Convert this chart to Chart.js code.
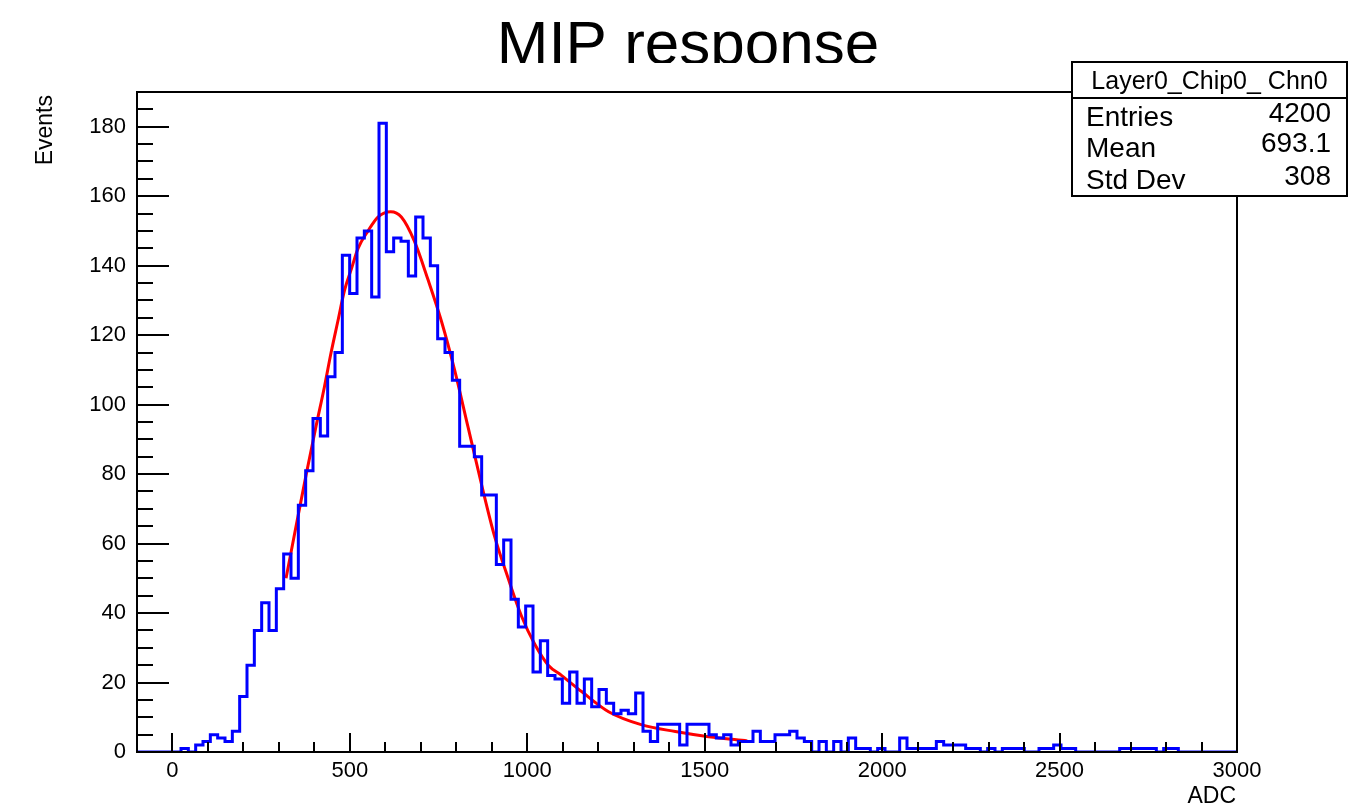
<!DOCTYPE html>
<html>
<head>
<meta charset="utf-8">
<script src="https://cdn.jsdelivr.net/npm/chart.js@4.4.1/dist/chart.umd.min.js"></script>
<style>
  html, body { margin: 0; padding: 0; background: #fff; }
  canvas { display: block; }
</style>
</head>
<body>
<canvas id="mipChart" width="1349" height="807"></canvas>
<script>
// histogram: 150 bins from -100 to 3000 ADC
const binLow = -100;
const binHigh = 3000;
const binCount = [
    0, 0, 0, 0, 0, 0, 1, 0, 2, 3,
    5, 4, 3, 6, 16, 25, 35, 43, 35, 47,
    57, 50, 71, 81, 96, 91, 108, 115, 143, 132,
    148, 150, 131, 181, 144, 148, 147, 137, 154, 148,
    140, 119, 115, 107, 88, 88, 85, 74, 74, 54,
    61, 44, 36, 42, 23, 32, 22, 21, 14, 23,
    14, 21, 13, 18, 14, 11, 12, 11, 17, 6,
    3, 8, 8, 8, 2, 8, 8, 8, 5, 4,
    5, 2, 3, 3, 6, 3, 3, 5, 5, 6,
    4, 3, 0, 3, 0, 3, 0, 4, 1, 1,
    0, 1, 0, 0, 4, 1, 1, 1, 1, 3,
    2, 2, 2, 1, 1, 0, 1, 0, 1, 1,
    1, 0, 0, 1, 1, 2, 1, 1, 0, 0,
    0, 0, 0, 0, 1, 1, 1, 1, 1, 0,
    1, 1, 0, 0, 0, 0, 0, 0, 0, 0
];

// fit curve
const fitAdc = [320, 353, 377, 405, 428, 447, 466, 485, 504, 523, 551, 579, 615, 645, 682, 720, 758, 795, 833, 871, 908, 946, 984, 1021, 1059, 1097, 1153, 1229, 1323, 1417, 1511, 1620];
const fitEvents = [50, 67.5, 80, 94, 105, 115, 124, 133, 139, 145, 150, 154, 155.5, 154, 147, 136, 124, 110, 93.5, 77, 62, 50, 39, 31, 25, 22, 17.4, 11.6, 7.8, 5.9, 4.4, 3.2];

const xTickLabels = [0, 500, 1000, 1500, 2000, 2500, 3000];
const yTickLabels = [0, 20, 40, 60, 80, 100, 120, 140, 160, 180];

const statsTitle = 'Layer0_Chip0_ Chn0';
const statsNames = ['Entries', 'Mean', 'Std Dev'];
const statsValues = ['4200', '693.1', '308'];

const FONT = '"Liberation Sans", Arial, sans-serif';

const binWidth = (binHigh - binLow) / binCount.length;
const histPoints = binCount.map((c, i) => ({ x: binLow + i * binWidth, y: c }));
histPoints.push({ x: binHigh, y: binCount[binCount.length - 1] });

const fitPoints = fitAdc.map((a, i) => ({ x: a, y: fitEvents[i] }));

// ROOT style frame, inward ticks, labels and the stats box
const rootFrame = {
    id: 'rootFrame',
    afterDraw(chart) {
        const ctx = chart.ctx;
        const area = chart.chartArea;
        const xs = chart.scales.x;
        const ys = chart.scales.y;
        ctx.save();

        // title, clipped like the original
        ctx.save();
        ctx.beginPath();
        ctx.rect(0, 0, chart.width, 63);
        ctx.clip();
        ctx.fillStyle = '#000';
        ctx.font = '62px ' + FONT;
        ctx.textAlign = 'center';
        ctx.textBaseline = 'alphabetic';
        ctx.fillText('MIP response', 688, 64);
        ctx.restore();

        // frame
        ctx.strokeStyle = '#000';
        ctx.lineWidth = 2;
        ctx.strokeRect(area.left, area.top, area.right - area.left, area.bottom - area.top);

        // x ticks
        ctx.beginPath();
        for (let v = 0; v <= 3000; v += 100) {
            const px = Math.round(xs.getPixelForValue(v));
            const len = (v % 500 === 0) ? 19 : 10;
            ctx.moveTo(px, area.bottom);
            ctx.lineTo(px, area.bottom - len);
        }
        // y ticks
        for (let v = 0; v <= 190; v += 5) {
            const py = Math.round(ys.getPixelForValue(v));
            const len = (v % 20 === 0) ? 32 : 16;
            ctx.moveTo(area.left, py);
            ctx.lineTo(area.left + len, py);
        }
        ctx.stroke();

        ctx.fillStyle = '#000';
        ctx.font = '22px ' + FONT;
        ctx.textAlign = 'center';
        ctx.textBaseline = 'middle';
        xTickLabels.forEach(v => {
            ctx.fillText(String(v), xs.getPixelForValue(v), 771);
        });
        ctx.textAlign = 'right';
        yTickLabels.forEach(v => {
            ctx.fillText(String(v), 126, ys.getPixelForValue(v));
        });

        // axis titles
        ctx.font = '23px ' + FONT;
        ctx.textAlign = 'right';
        ctx.textBaseline = 'alphabetic';
        ctx.fillText('ADC', 1236, 803);
        ctx.save();
        ctx.translate(52, 95);
        ctx.rotate(-Math.PI / 2);
        ctx.fillText('Events', 0, 0);
        ctx.restore();

        // stats box
        const bx = 1072, by = 62, bw = 275, bh = 134;
        ctx.fillStyle = '#fff';
        ctx.fillRect(bx, by, bw, bh);
        ctx.lineWidth = 2;
        ctx.strokeRect(bx, by, bw, bh);
        ctx.beginPath();
        ctx.moveTo(bx, 98);
        ctx.lineTo(bx + bw, 98);
        ctx.stroke();

        ctx.fillStyle = '#000';
        ctx.font = '25px ' + FONT;
        ctx.textAlign = 'center';
        ctx.textBaseline = 'alphabetic';
        ctx.fillText(statsTitle, bx + bw / 2, 89);

        ctx.font = '28px ' + FONT;
        const nameY = [126, 157, 189];
        const valY = [122, 152, 185];
        statsNames.forEach((n, i) => {
            ctx.textAlign = 'left';
            ctx.fillText(n, 1086, nameY[i]);
            ctx.textAlign = 'right';
            ctx.fillText(statsValues[i], 1331, valY[i]);
        });

        ctx.restore();
    }
};

const mipChart = new Chart(document.getElementById('mipChart').getContext('2d'), {
    type: 'line',
    data: {
        datasets: [
            {
                label: 'Layer0_Chip0_ Chn0',
                data: histPoints,
                stepped: 'before',
                borderColor: '#0000ff',
                borderWidth: 3,
                pointRadius: 0,
                fill: false
            },
            {
                label: 'fit',
                data: fitPoints,
                borderColor: '#ff0000',
                borderWidth: 3,
                pointRadius: 0,
                cubicInterpolationMode: 'monotone',
                fill: false
            }
        ]
    },
    options: {
        responsive: false,
        animation: false,
        devicePixelRatio: 1,
        layout: {
            padding: { left: 137, right: 112, top: 92, bottom: 55 }
        },
        scales: {
            x: { type: 'linear', min: -100, max: 3000, display: false },
            y: { type: 'linear', min: 0, max: 190, display: false }
        },
        plugins: {
            legend: { display: false },
            tooltip: { enabled: false },
            title: { display: false }
        }
    },
    plugins: [rootFrame]
});
</script>
</body>
</html>
